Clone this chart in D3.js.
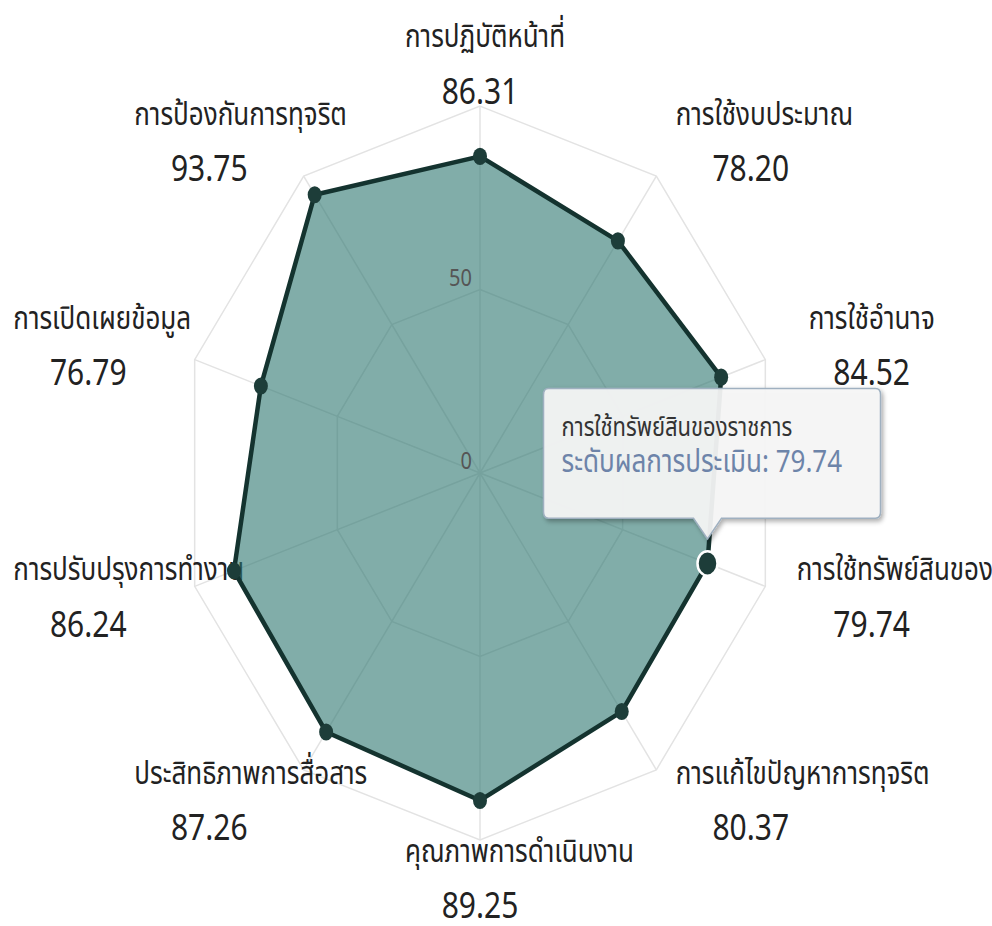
<!DOCTYPE html>
<html>
<head>
<meta charset="utf-8">
<script src="https://cdn.jsdelivr.net/npm/d3@7"></script>
<style>
  html, body { margin: 0; padding: 0; background: #fff; }
  svg { display: block; font-family: "Noto Sans Thai", "Noto Sans", "DejaVu Sans", sans-serif; }
</style>
</head>
<body>
<script>
// categories clockwise from the top
var categories = [
  "การปฏิบัติหน้าที่",
  "การใช้งบประมาณ",
  "การใช้อำนาจ",
  "การใช้ทรัพย์สินของราชการ",
  "การแก้ไขปัญหาการทุจริต",
  "คุณภาพการดำเนินงาน",
  "ประสิทธิภาพการสื่อสาร",
  "การปรับปรุงการทำงาน",
  "การเปิดเผยข้อมูล",
  "การป้องกันการทุจริต"
]
var values = [86.31, 78.20, 84.52, 79.74, 80.37, 89.25, 87.26, 86.24, 76.79, 93.75]
var seriesName = "ระดับผลการประเมิน"
var gridTicks = [0, 50, 100]
var tickLabels = [0, 50]
var hovered = 3

var width = 992, height = 926
// the reference is stretched vertically, so draw in a squashed frame and scale it
var SY = 1.223
var cx = 480, cy = 473 / SY

var svg = d3.select("body").append("svg")
  .attr("width", width)
  .attr("height", height)

svg.append("rect").attr("width", width).attr("height", height).attr("fill", "#fff")

var defs = svg.append("defs")
var shadow = defs.append("filter").attr("id", "shadow")
  .attr("x", "-10%").attr("y", "-10%").attr("width", "130%").attr("height", "140%")
shadow.append("feDropShadow")
  .attr("dx", 2).attr("dy", 2).attr("stdDeviation", 2)
  .attr("flood-color", "#000").attr("flood-opacity", 0.35)

var g = svg.append("g").attr("transform", "scale(1," + SY + ")")

var r = d3.scaleLinear().domain([0, 100]).range([0, 300])
var n = categories.length
var angle = d3.scaleLinear().domain([0, n]).range([0, 2 * Math.PI])

function px(i, v) { return cx + r(v) * Math.sin(angle(i)) }
function py(i, v) { return cy - r(v) * Math.cos(angle(i)) }

// ****************** Grid ***************************
var idx = d3.range(n)

g.selectAll("path.ring")
  .data(gridTicks.filter(t => t > 0))
  .enter().append("path")
  .attr("class", "ring")
  .attr("d", t => d3.line()(idx.map(i => [px(i, t), py(i, t)])) + "Z")
  .attr("fill", "none")
  .attr("stroke", "#e3e3e3")
  .attr("stroke-width", 1.5)
  .attr("vector-effect", "non-scaling-stroke")

g.selectAll("line.spoke")
  .data(idx)
  .enter().append("line")
  .attr("class", "spoke")
  .attr("x1", cx).attr("y1", cy)
  .attr("x2", i => px(i, 100)).attr("y2", i => py(i, 100))
  .attr("stroke", "#e3e3e3")
  .attr("stroke-width", 1.5)
  .attr("vector-effect", "non-scaling-stroke")

// ****************** Category labels ***************************
var labelR = r(100) + 33
var boxW = 150
var labels = g.selectAll("g.cat")
  .data(idx)
  .enter().append("g")
  .attr("class", "cat")

labels.each(function (i) {
  var s = Math.sin(angle(i))
  var ax = cx + labelR * s
  var ay = cy - labelR * Math.cos(angle(i))
  var boxX = s > 0.01 ? ax : (s < -0.01 ? ax - boxW : ax - boxW / 2)
  var el = d3.select(this)
  var name = el.append("text")
    .attr("x", boxX)
    .attr("y", ay - 15)
    .attr("fill", "#222")
    .style("font-size", "26px")
    .text(categories[i])
  var w = name.node().getComputedTextLength()
  if (w < boxW) name.attr("x", boxX + (boxW - w) / 2)
  el.append("text")
    .attr("x", boxX + boxW / 2)
    .attr("y", ay + 31)
    .attr("text-anchor", "middle")
    .attr("fill", "#222")
    .style("font-size", "30px")
    .text(d3.format(".2f")(values[i]))
})

// ****************** Series ***************************
var pts = idx.map(i => [px(i, values[i]), py(i, values[i])])

g.append("path")
  .attr("d", d3.line()(pts) + "Z")
  .attr("fill", "#2d7770")
  .attr("fill-opacity", 0.6)
  .attr("stroke", "#14332f")
  .attr("stroke-width", 4.5)
  .attr("stroke-linejoin", "round")
  .attr("vector-effect", "non-scaling-stroke")

g.selectAll("circle.marker")
  .data(idx)
  .enter().append("circle")
  .attr("class", "marker")
  .attr("cx", i => px(i, values[i]))
  .attr("cy", i => py(i, values[i]))
  .attr("r", i => i === hovered ? 10 : 7)
  .attr("fill", "#1d3d39")
  .attr("stroke", i => i === hovered ? "#fff" : "none")
  .attr("stroke-width", 2.5)
  .attr("vector-effect", "non-scaling-stroke")

// ****************** Radial tick labels ***************************
g.selectAll("text.tick")
  .data(tickLabels)
  .enter().append("text")
  .attr("class", "tick")
  .attr("x", cx - 8)
  .attr("y", t => cy - r(t) - 3)
  .attr("text-anchor", "end")
  .attr("fill", "#555")
  .style("font-size", "20px")
  .text(t => t)

// ****************** Tooltip ***************************
var hx = px(hovered, values[hovered]), hy = py(hovered, values[hovered])
var L = hx - 164, R = hx + 173, T = hy - 143, B = hy - 37, tipY = hy - 20, rad = 5
var tipPath = "M" + (L + rad) + "," + T +
  "H" + (R - rad) + "Q" + R + "," + T + " " + R + "," + (T + rad) +
  "V" + (B - rad) + "Q" + R + "," + B + " " + (R - rad) + "," + B +
  "H" + (hx + 14) + "L" + hx + "," + tipY + "L" + (hx - 14) + "," + B +
  "H" + (L + rad) + "Q" + L + "," + B + " " + L + "," + (B - rad) +
  "V" + (T + rad) + "Q" + L + "," + T + " " + (L + rad) + "," + T + "Z"

var tip = g.append("g").attr("class", "tooltip")
tip.append("path")
  .attr("d", tipPath)
  .attr("fill", "#f7f7f7")
  .attr("fill-opacity", 0.92)
  .attr("stroke", "#9fb0c0")
  .attr("stroke-width", 1.5)
  .attr("vector-effect", "non-scaling-stroke")
  .attr("filter", "url(#shadow)")

tip.append("text")
  .attr("x", L + 18)
  .attr("y", T + 39)
  .attr("fill", "#333")
  .style("font-size", "22px")
  .text(categories[hovered])

tip.append("text")
  .attr("x", L + 18)
  .attr("y", T + 68)
  .attr("fill", "#6d84a9")
  .style("font-size", "26px")
  .text(seriesName + ": " + d3.format(".2f")(values[hovered]))
</script>
</body>
</html>
